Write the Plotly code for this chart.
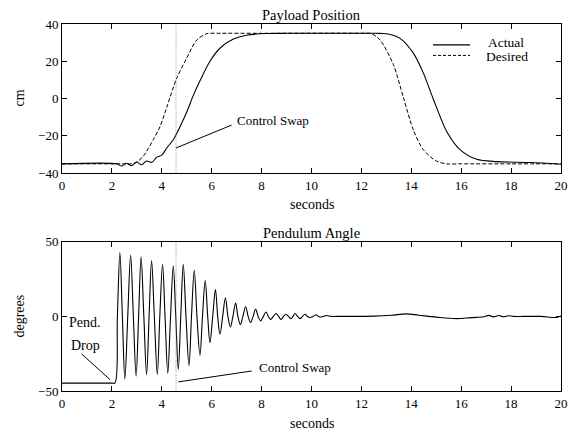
import plotly.graph_objects as go
from plotly.subplots import make_subplots

# ---------------- data ----------------
# Payload position (cm) - actual
t_actual = [0, 2.19, 2.39, 2.59, 2.79, 2.99, 3.19, 3.39, 3.6, 3.8, 4.0, 4.2, 4.46,
            4.73, 5.0, 5.26, 5.53, 5.93, 6.33, 6.87, 7.4, 8.2, 9, 10, 12, 12.6, 12.9,
            13.2, 13.55, 14.08, 14.48, 14.88, 15.42, 15.95, 16.62, 17.42, 18.76, 20]
pos_actual = [-35, -35, -36.2, -34.7, -36.0, -34.0, -35.5, -33.5, -34.2, -31.4, -30.3,
              -26.5, -22.1, -15.1, -7.2, 1.6, 9.5, 20, 27, 31.9, 34, 34.9, 35, 35, 35,
              35, 34.9, 34.2, 32.3, 24.4, 13.8, -0.2, -17.7, -27.4, -32.6, -33.8,
              -34.3, -35.2]

# Payload position (cm) - desired
t_desired = [0, 2.5, 2.8, 3.0, 3.26, 3.66, 3.93, 4.2, 4.6, 5.0, 5.4, 5.8, 6.2, 8, 12,
             12.4, 12.75, 13.28, 13.68, 14.08, 14.48, 15.0, 15.42, 16, 18, 20]
pos_desired = [-35, -35, -35, -34, -30.9, -22, -15, -4.6, 11, 21.7, 31.4, 34.8, 35,
               35, 35, 34.8, 31.4, 18.3, 0.7, -16.8, -27.4, -33.5, -35, -35, -35, -35]

# Pendulum angle (degrees)
t_angle = [0, 2.0, 2.12, 2.22, 2.32, 2.42, 2.52, 2.635, 2.75, 2.86,
           2.97, 3.07, 3.17, 3.28, 3.39, 3.49, 3.59, 3.70, 3.82, 3.92,
           4.03, 4.13, 4.24, 4.35, 4.46, 4.56, 4.66, 4.76, 4.86, 4.97,
           5.09, 5.19, 5.30, 5.41, 5.53, 5.63, 5.74, 5.84, 5.93, 6.04,
           6.15, 6.24, 6.33, 6.44, 6.55, 6.65, 6.75, 6.85, 6.96, 7.05,
           7.15, 7.25, 7.36, 7.46, 7.56, 7.66, 7.76, 7.86, 7.96, 8.07,
           8.18, 8.27, 8.36, 8.47, 8.58, 8.68, 8.78, 8.88, 8.98, 9.08,
           9.18, 9.26, 9.34, 9.44, 9.54, 9.64, 9.74, 9.84, 9.94, 10.06,
           10.18, 10.28, 10.38, 10.48, 10.58, 10.8, 11.0, 12.5, 13.2, 13.8,
           14.3, 15.0, 15.8, 16.4, 16.9, 17.1, 17.3, 17.5, 17.7, 17.9,
           18.1, 18.5, 19.2, 19.8, 20]
angle = [-44.7, -44.7, -44.7, 0, 42.8, 0, -42, 0, 41, 0,
         -40, 0, 40, 0, -39, 0, 37.5, 0, -39, 0,
         35, 0, -38, 0, 34, 0, -35.5, 0, 35, 0,
         -33, 0, 31, 0, -26, 0, 24, 0, -17.5, 0,
         18, 0, -12, 0, 12.5, 0, -7, 0, 9, 0,
         -5.5, 0, 6.5, 0, -4, 0, 5, 0, -3, 0,
         3, 0, -2, 0, 2, 0, -2, 0, 1.5, 0,
         -1.5, 0, 2.0, 0, -1.5, 0, 1.5, 0, -0.7, 0,
         1.1, 0, -0.4, 0, 0.6, 0, 0, 0.2, 0.8, 1.7,
         0.8, -0.5, -1.5, -0.8, -0.2, 0.7, -0.3, 0.6, -0.2, 0.5,
         0, 0, 0, -0.7, 0.3]

swap_time = 4.57

# ---------------- figure ----------------
FONT = "Liberation Serif"
fig = make_subplots(rows=2, cols=1, vertical_spacing=0.187)

fig.add_trace(go.Scatter(x=t_actual, y=pos_actual, mode="lines", name="Actual",
                         line=dict(color="black", width=1.1, shape="spline", smoothing=0.8)),
              row=1, col=1)
fig.add_trace(go.Scatter(x=t_desired, y=pos_desired, mode="lines", name="Desired",
                         line=dict(color="black", width=1.0, dash="4px,2px", shape="spline",
                                   smoothing=0.8)),
              row=1, col=1)
fig.add_trace(go.Scatter(x=t_angle, y=angle, mode="lines", name="Angle",
                         line=dict(color="black", width=1.1, shape="spline", smoothing=1.0)),
              row=2, col=1)

axis_common = dict(showline=True, linecolor="black", linewidth=1, mirror="ticks",
                   ticks="inside", ticklen=5, tickcolor="black", showgrid=False,
                   zeroline=False, tickfont=dict(family=FONT, size=13, color="black"))

fig.update_xaxes(range=[0, 20], dtick=2, tick0=0, **axis_common)
fig.update_yaxes(**axis_common)
fig.update_yaxes(range=[-40, 40], dtick=20, domain=[0.5936, 1], row=1, col=1)
fig.update_yaxes(range=[-50, 50], dtick=50, domain=[0, 0.4064], row=2, col=1)

# control swap dotted lines
for xr, yr in [("x", "y domain"), ("x2", "y2 domain")]:
    fig.add_shape(type="line", xref=xr, yref=yr, x0=swap_time, x1=swap_time, y0=0, y1=1,
                  line=dict(color="#888888", width=1, dash="1px,1.5px"))

# annotation pointer lines
fig.add_shape(type="line", xref="x", yref="y", x0=4.57, y0=-26.5, x1=6.8, y1=-14.2,
              line=dict(color="black", width=1))
fig.add_shape(type="line", xref="x2", yref="y2", x0=4.66, y0=-43.9, x1=7.6, y1=-36.6,
              line=dict(color="black", width=1))
fig.add_shape(type="line", xref="x2", yref="y2", x0=0.79, y0=-25.2, x1=1.92, y1=-42.3,
              line=dict(color="black", width=1))

tf = dict(family=FONT, size=13, color="black")
pf = dict(family=FONT, size=14, color="black")
hf = dict(family=FONT, size=14.5, color="black")
lf = dict(family=FONT, size=14, color="black")
gf = dict(family=FONT, size=13.5, color="black")
ann = [
    dict(text="Control Swap", x=6.93, y=-11.6, xref="x", yref="y", xanchor="left",
         yanchor="middle", showarrow=False, font=tf),
    dict(text="Control Swap", x=7.8, y=-34.0, xref="x2", yref="y2", xanchor="left",
         yanchor="middle", showarrow=False, font=tf),
    dict(text="Pend.", x=0.2, y=-4.4, xref="x2", yref="y2", xanchor="left",
         yanchor="middle", showarrow=False, font=pf),
    dict(text="Drop", x=0.28, y=-19.5, xref="x2", yref="y2", xanchor="left",
         yanchor="middle", showarrow=False, font=pf),
    dict(text="Payload Position", x=0.5, y=1, xref="paper", yref="paper",
         xanchor="center", yanchor="bottom", showarrow=False, font=hf, yshift=-1),
    dict(text="Pendulum Angle", x=0.5, y=0.4064, xref="paper", yref="paper",
         xanchor="center", yanchor="bottom", showarrow=False, font=hf, yshift=-1),
    # axis titles
    dict(text="seconds", x=0.5, y=0.508, xref="paper", yref="paper",
         xanchor="center", yanchor="middle", showarrow=False, font=lf),
    dict(text="seconds", x=0.5, y=-0.0882, xref="paper", yref="paper",
         xanchor="center", yanchor="middle", showarrow=False, font=lf),
    dict(text="cm", x=-0.086, y=0.797, xref="paper", yref="paper", textangle=-90,
         xanchor="center", yanchor="middle", showarrow=False, font=lf),
    dict(text="degrees", x=-0.086, y=0.203, xref="paper", yref="paper", textangle=-90,
         xanchor="center", yanchor="middle", showarrow=False, font=lf),
    # legend texts
    dict(text="Actual", x=0.849, y=0.9497, xref="paper", yref="paper", xanchor="left",
         yanchor="middle", showarrow=False, font=gf),
    dict(text="Desired", x=0.8457, y=0.9110, xref="paper", yref="paper", xanchor="left",
         yanchor="middle", showarrow=False, font=gf),
]
fig.update_layout(annotations=ann)

# legend samples
fig.add_shape(type="line", xref="paper", yref="paper", x0=0.7435, x1=0.8176,
              y0=0.9431, y1=0.9431, line=dict(color="black", width=1.1))
fig.add_shape(type="line", xref="paper", yref="paper", x0=0.7435, x1=0.8176,
              y0=0.9144, y1=0.9144, line=dict(color="black", width=1.0, dash="3px,2px"))

# the page body has an 8px margin, so the figure is sized to fit the window
fig.update_layout(width=571, height=424, showlegend=False,
                  margin=dict(l=54, r=18, t=9, b=41),
                  plot_bgcolor="white", paper_bgcolor="white",
                  font=dict(family=FONT, size=12, color="black"))

fig.write_html("out.html")
